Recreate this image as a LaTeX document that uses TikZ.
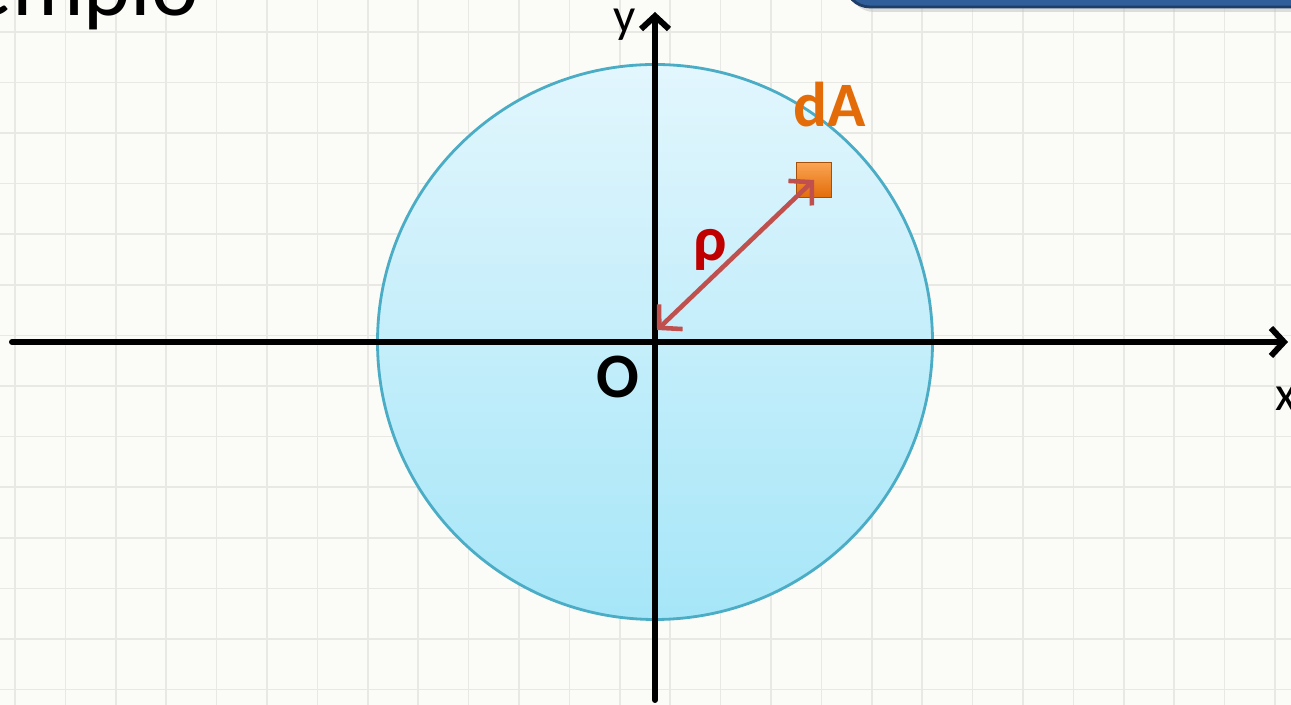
\documentclass[tikz,border=0pt]{standalone}
\usepackage{fontspec}
\setmainfont{Carlito}
\usetikzlibrary{arrows.meta}
\definecolor{Paper}{HTML}{FBFBF7}
\definecolor{GridLine}{HTML}{E8E8E4}
\definecolor{DiskTop}{HTML}{E2F6FD}
\definecolor{DiskBottom}{HTML}{A6E6F8}
\definecolor{DiskEdge}{HTML}{4BACC6}
\definecolor{Brick}{HTML}{C0504D}
\definecolor{DeepRed}{HTML}{C00000}
\definecolor{Pumpkin}{HTML}{E36C09}
\definecolor{Tangerine}{HTML}{FAA453}
\definecolor{Rust}{HTML}{A5500A}
\definecolor{Cobalt}{HTML}{2F5E9B}
\definecolor{CobaltDark}{HTML}{1E3E68}

\begin{document}
\begin{tikzpicture}[
    axis/.style={line width=1.7pt,black,line cap=round,-{Straight Barb[length=1.3mm,width=2.8mm]}},
    disk/.style={circle,draw=DiskEdge,line width=.8pt,minimum size=5.55cm,inner sep=0pt,
                 top color=DiskTop,bottom color=DiskBottom},
    element/.style={rectangle,draw=Rust,line width=.5pt,minimum size=.35cm,inner sep=0pt,
                    top color=Tangerine,bottom color=Pumpkin},
    radius/.style={line width=1.3pt,Brick,{Straight Barb[length=1.6mm,width=3.4mm]}-{Straight Barb[length=1.6mm,width=3.4mm]}},
    tag/.style={font=\fontsize{18}{20}\selectfont\bfseries,inner sep=0pt},
    axislabel/.style={font=\fontsize{14}{16}\selectfont,inner sep=0pt},
    banner/.style={draw=CobaltDark,fill=Cobalt,rounded corners=.25cm,line width=.8pt,
                   minimum width=5cm,minimum height=.7cm}
  ]
    \useasboundingbox (0,0) rectangle (12.91,7.05);
    \clip (0,0) rectangle (12.91,7.05);
    \fill[Paper] (0,0) rectangle (12.91,7.05);
    % squared paper
    \foreach \k in {0,...,25} \draw[GridLine,line width=.5pt] (0.15+0.504*\k,0) -- (0.15+0.504*\k,7.05);
    \foreach \k in {-2,...,11} \draw[GridLine,line width=.5pt] (0,5.72-0.506*\k) -- (12.91,5.72-0.506*\k);

    \node[font=\fontsize{25.5}{28}\selectfont,anchor=base west,inner sep=0pt] (title) at (-0.33,6.89) {emplo};
    \fill[black!25,opacity=.5,rounded corners=.25cm] (8.49,6.93) rectangle (13.5,7.6);
    \node[banner] (banner) at (10.95,7.33) {};

    \coordinate (O) at (6.55,3.63);
    \node[disk] (disk) at (O) {};
    \coordinate (xstart) at (0.12,3.63);
    \coordinate (xend) at (12.88,3.63);
    \coordinate (ystart) at (6.55,0.05);
    \coordinate (yend) at (6.55,6.93);
    \draw[axis] (xstart) -- (xend);
    \draw[axis] (ystart) -- (yend);

    \node[element] (dA) at (8.14,5.25) {};
    \coordinate (foot) at (6.57,3.75);
    \draw[radius] (foot) -- (dA.center);

    \node[tag,text=Pumpkin] (dAtag) at (8.30,6.00) {dA};
    \node[tag,text=DeepRed] (rho) at (7.10,4.55) {ρ};
    \node[tag] (origin) at (6.18,3.28) {O};
    \node[axislabel] (ylabel) at (6.25,6.80) {y};
    \node[axislabel] (xlabel) at (12.86,3.06) {x};
  \end{tikzpicture}
\end{document}
